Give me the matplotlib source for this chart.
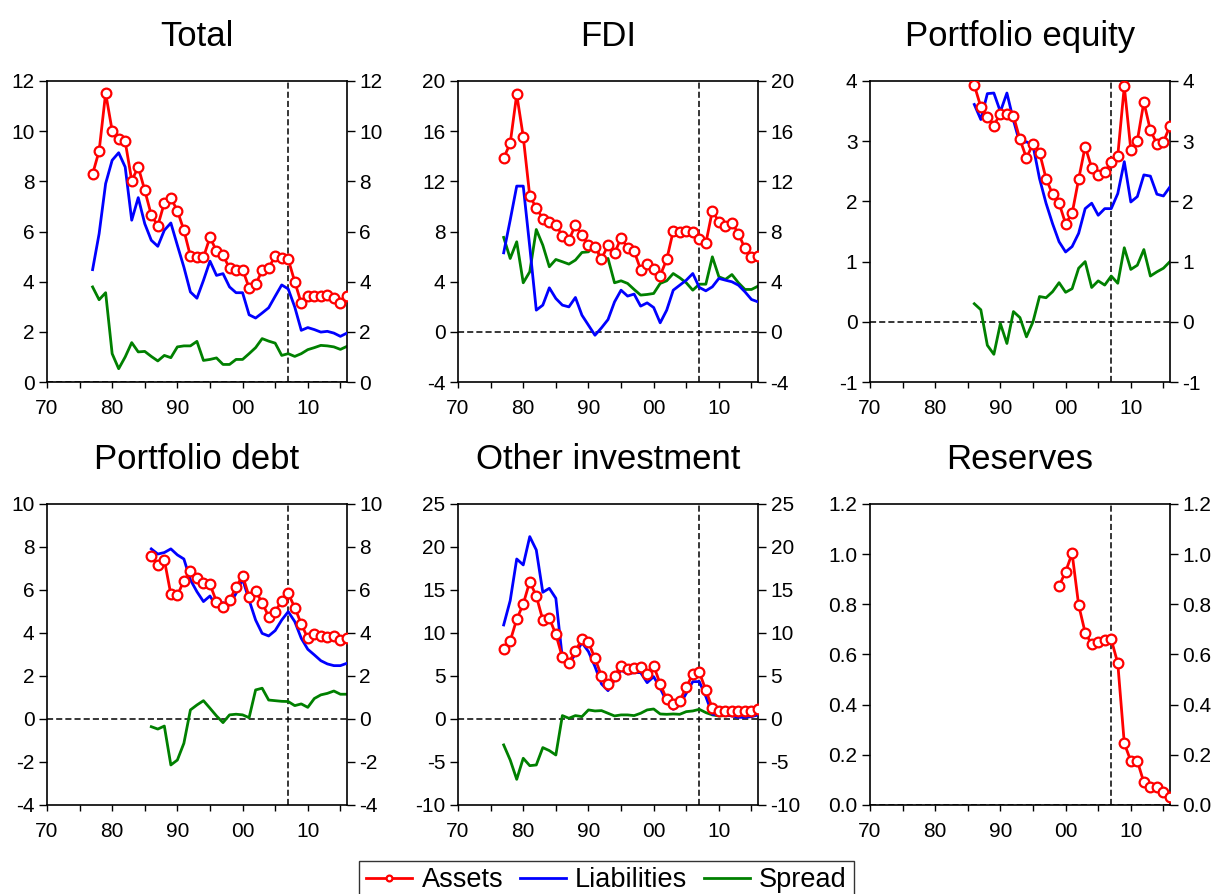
import matplotlib
matplotlib.use('Agg')
import matplotlib.pyplot as plt
from matplotlib.ticker import MultipleLocator, FormatStrFormatter

plt.rcParams['font.family'] = ['Liberation Sans', 'DejaVu Sans']
plt.rcParams['axes.unicode_minus'] = False

# years covered by each series
years_77 = list(range(1977, 2017))
years_86 = list(range(1986, 2017))
years_99 = list(range(1999, 2017))

# Total
total_assets = [8.29, 9.21, 11.52, 10.02, 9.67, 9.59, 8.03, 8.57, 7.64, 6.66,
                6.23, 7.14, 7.34, 6.83, 6.05, 5.02, 4.97, 4.97, 5.77, 5.22,
                5.06, 4.53, 4.48, 4.48, 3.76, 3.89, 4.45, 4.56, 5.01, 4.93,
                4.89, 4.00, 3.14, 3.43, 3.43, 3.43, 3.46, 3.35, 3.16, 3.42]
total_liab = [4.48, 5.91, 7.91, 8.84, 9.14, 8.57, 6.45, 7.35, 6.31, 5.65,
              5.41, 6.05, 6.34, 5.45, 4.58, 3.59, 3.34, 4.05, 4.82, 4.25,
              4.32, 3.79, 3.56, 3.56, 2.68, 2.55, 2.75, 2.96, 3.42, 3.87,
              3.71, 2.99, 2.06, 2.17, 2.09, 1.99, 2.02, 1.95, 1.82, 1.95]
total_spread = [3.79, 3.28, 3.56, 1.13, 0.53, 1.00, 1.57, 1.20, 1.22, 1.02,
                0.84, 1.06, 0.97, 1.40, 1.44, 1.44, 1.62, 0.86, 0.90, 0.96,
                0.70, 0.70, 0.90, 0.90, 1.13, 1.37, 1.73, 1.63, 1.55, 1.06,
                1.13, 1.02, 1.13, 1.29, 1.37, 1.46, 1.44, 1.40, 1.30, 1.42]

# FDI
fdi_assets = [13.86, 15.03, 18.94, 15.56, 10.82, 9.89, 9.02, 8.78, 8.54, 7.66,
              7.31, 8.51, 7.71, 6.91, 6.78, 5.82, 6.89, 6.25, 7.50, 6.70,
              6.44, 4.97, 5.37, 5.05, 4.49, 5.77, 8.03, 7.98, 8.01, 7.98,
              7.37, 7.07, 9.65, 8.78, 8.46, 8.70, 7.82, 6.65, 5.98, 6.06]
fdi_liab = [6.30, 8.91, 11.62, 11.62, 6.78, 1.73, 2.13, 3.51, 2.66, 2.13,
            1.99, 2.74, 1.33, 0.53, -0.27, 0.32, 0.98, 2.39, 3.32, 2.85,
            3.01, 2.05, 2.31, 1.94, 0.72, 1.73, 3.32, 3.72, 4.12, 4.65,
            3.54, 3.27, 3.59, 4.26, 4.12, 3.99, 3.72, 3.19, 2.58, 2.39]
fdi_spread = [7.53, 5.85, 7.18, 3.91, 4.79, 8.16, 6.91, 5.19, 5.77, 5.59,
              5.40, 5.72, 6.33, 6.38, 6.97, 5.64, 5.85, 3.91, 4.07, 3.86,
              3.38, 2.93, 2.98, 3.06, 3.86, 4.07, 4.65, 4.31, 3.91, 3.32,
              3.80, 3.80, 5.98, 4.39, 4.18, 4.57, 3.91, 3.38, 3.38, 3.64]

# Portfolio equity
pe_assets = [3.93, 3.57, 3.41, 3.26, 3.46, 3.45, 3.42, 3.03, 2.72, 2.96,
             2.81, 2.38, 2.12, 1.97, 1.63, 1.80, 2.37, 2.91, 2.56, 2.44,
             2.49, 2.65, 2.76, 3.91, 2.86, 3.01, 3.65, 3.18, 2.96, 2.99, 3.25]
pe_liab = [3.61, 3.36, 3.79, 3.80, 3.49, 3.80, 3.35, 2.96, 2.99, 2.93,
           2.38, 1.97, 1.63, 1.33, 1.16, 1.25, 1.47, 1.88, 1.97, 1.77,
           1.88, 1.88, 2.13, 2.66, 1.99, 2.08, 2.44, 2.42, 2.12, 2.09, 2.24]
pe_spread = [0.30, 0.20, -0.39, -0.54, -0.03, -0.36, 0.17, 0.07, -0.25, 0.00,
             0.42, 0.40, 0.50, 0.65, 0.49, 0.55, 0.89, 1.00, 0.57, 0.68,
             0.61, 0.76, 0.64, 1.23, 0.87, 0.94, 1.20, 0.76, 0.83, 0.89, 1.00]

# Portfolio debt
pd_assets = [7.60, 7.16, 7.40, 5.80, 5.75, 6.43, 6.88, 6.57, 6.31, 6.26,
             5.46, 5.22, 5.53, 6.12, 6.67, 5.69, 5.95, 5.41, 4.76, 4.99,
             5.50, 5.84, 5.18, 4.42, 3.75, 3.95, 3.88, 3.81, 3.88, 3.67, 3.78]
pd_liab = [7.91, 7.67, 7.74, 7.91, 7.63, 7.44, 6.47, 5.92, 5.46, 5.72,
           5.22, 5.41, 5.30, 5.84, 6.50, 5.53, 4.60, 3.98, 3.86, 4.11,
           4.60, 4.99, 4.53, 3.75, 3.24, 2.98, 2.71, 2.56, 2.48, 2.48, 2.59]
pd_spread = [-0.36, -0.47, -0.33, -2.14, -1.91, -1.13, 0.42, 0.65, 0.85, 0.50,
             0.14, -0.17, 0.19, 0.22, 0.19, 0.06, 1.35, 1.43, 0.88, 0.85,
             0.82, 0.81, 0.62, 0.70, 0.54, 0.95, 1.12, 1.19, 1.30, 1.15, 1.15]

# Other investment
oi_assets = [8.10, 9.07, 11.59, 13.37, 15.97, 14.30, 11.51, 11.71, 9.84, 7.17,
             6.55, 7.91, 9.26, 8.91, 7.05, 5.00, 4.07, 5.00, 6.20, 5.78,
             5.89, 6.01, 5.19, 6.20, 4.07, 2.29, 1.74, 2.13, 3.68, 5.23,
             5.43, 3.37, 1.24, 0.93, 0.93, 0.93, 0.89, 0.93, 0.93, 1.12]
oi_liab = [10.93, 13.76, 18.60, 17.91, 21.20, 19.65, 14.73, 15.19, 14.03, 7.05,
           6.47, 7.52, 8.88, 7.83, 6.09, 4.07, 3.29, 4.53, 5.70, 5.23,
           5.39, 5.39, 4.22, 4.92, 3.57, 2.02, 1.12, 1.63, 2.98, 4.34,
           4.34, 2.60, 0.54, 0.47, 0.47, 0.35, 0.19, 0.19, 0.27, 0.47]
oi_spread = [-3.02, -4.77, -7.02, -4.57, -5.43, -5.35, -3.33, -3.68, -4.19, 0.39,
             0.08, 0.39, 0.27, 1.05, 0.93, 0.97, 0.66, 0.35, 0.47, 0.47,
             0.39, 0.66, 1.05, 1.16, 0.58, 0.54, 0.58, 0.54, 0.85, 0.93,
             1.12, 0.74, 0.47, 0.35, 0.39, 0.39, 0.39, 0.39, 0.43, 0.47]

# Reserves (assets only)
res_assets = [0.873, 0.930, 1.003, 0.797, 0.687, 0.641, 0.649, 0.658, 0.660,
              0.565, 0.246, 0.175, 0.175, 0.090, 0.070, 0.073, 0.053, 0.031]

titles = ['Total', 'FDI', 'Portfolio equity',
          'Portfolio debt', 'Other investment', 'Reserves']
x_ticks = [1970, 1980, 1990, 2000, 2010]
x_ticklabels = ['70', '80', '90', '00', '10']
crisis_year = 2007

panels = [
    dict(years=years_77, a=total_assets, l=total_liab, s=total_spread,
         ylim=(0, 12), step=2, fmt='%d'),
    dict(years=years_77, a=fdi_assets, l=fdi_liab, s=fdi_spread,
         ylim=(-4, 20), step=4, fmt='%d'),
    dict(years=years_86, a=pe_assets, l=pe_liab, s=pe_spread,
         ylim=(-1, 4), step=1, fmt='%d'),
    dict(years=years_86, a=pd_assets, l=pd_liab, s=pd_spread,
         ylim=(-4, 10), step=2, fmt='%d'),
    dict(years=years_77, a=oi_assets, l=oi_liab, s=oi_spread,
         ylim=(-10, 25), step=5, fmt='%d'),
    dict(years=years_99, a=res_assets, l=None, s=None,
         ylim=(0, 1.2), step=0.2, fmt='%.1f'),
]

fig = plt.figure(figsize=(12.13, 8.94), dpi=100)
lefts = [0.0387, 0.3776, 0.7172]
bottoms = [0.5727, 0.0996]
w, h = 0.2473, 0.3367

handles = None
for i, (p, title) in enumerate(zip(panels, titles)):
    ax = fig.add_axes([lefts[i % 3], bottoms[i // 3], w, h])
    ax.axhline(0, color='black', ls='--', lw=1.1, dashes=(4, 2), zorder=1)
    ax.axvline(crisis_year, color='black', ls='--', lw=1.1, dashes=(4, 2), zorder=1)
    ha, = ax.plot(p['years'], p['a'], color='#ff0000', lw=2, marker='o',
                  ms=7, mfc='white', mec='#ff0000', mew=1.6, label='Assets', zorder=4)
    if p['l'] is not None:
        hl, = ax.plot(p['years'], p['l'], color='#0000ff', lw=2, label='Liabilities', zorder=3)
        hs, = ax.plot(p['years'], p['s'], color='#008000', lw=2, label='Spread', zorder=2)
        if handles is None:
            handles = [ha, hl, hs]

    ax.set_xlim(1970, 2016)
    ax.set_ylim(*p['ylim'])
    ax.set_xticks(x_ticks)
    ax.set_xticklabels(x_ticklabels)
    ax.xaxis.set_minor_locator(MultipleLocator(5))
    ax.yaxis.set_major_locator(MultipleLocator(p['step']))
    ax.yaxis.set_major_formatter(FormatStrFormatter(p['fmt']))
    ax.tick_params(axis='y', which='both', left=True, right=True,
                   labelleft=True, labelright=True, direction='out',
                   length=6, width=1, labelsize=15, pad=3)
    ax.tick_params(axis='x', which='both', direction='out', length=4,
                   width=1, labelsize=15, pad=8, top=False)
    for sp in ax.spines.values():
        sp.set_linewidth(1.2)
    ax.set_title(title, fontsize=25, pad=25)

leg = fig.legend(handles, ['Assets', 'Liabilities', 'Spread'],
                 loc='lower center', bbox_to_anchor=(0.5, -0.013), ncol=3,
                 fontsize=19.5, frameon=True, fancybox=False, edgecolor='black',
                 handlelength=1.7, handletextpad=0.35, columnspacing=0.6,
                 borderpad=0.25, borderaxespad=0.2, markerscale=0.6)
leg.get_frame().set_linewidth(1.0)

fig.savefig('out.png', dpi=100)
